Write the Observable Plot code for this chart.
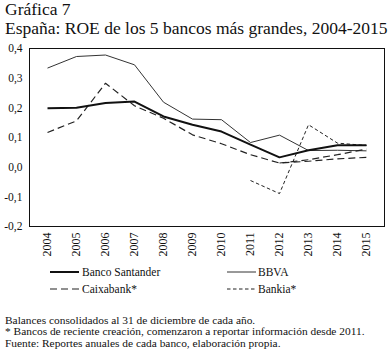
<!DOCTYPE html>
<html>
<head>
<meta charset="utf-8">
<script src="https://cdn.jsdelivr.net/npm/d3@7"></script>
<script src="https://cdn.jsdelivr.net/npm/@observablehq/plot@0.6"></script>
<style>
  html, body { margin: 0; padding: 0; background: #fff; }
  #wrap { position: relative; width: 391px; height: 352px; overflow: hidden; font-family: "Liberation Serif", "Times New Roman", Times, "DejaVu Serif", serif; color: #111; }
  #title { position: absolute; left: 5px; top: 0px; font-size: 17.5px; line-height: 19px; white-space: nowrap; }
  #chart { position: absolute; left: 0; top: 40px; }
  #legend { position: absolute; left: 0; top: 262px; }
  #notes { position: absolute; left: 5px; top: 315px; font-size: 11.4px; line-height: 11.4px; white-space: nowrap; }
</style>
</head>
<body>
<div id="wrap">
  <div id="title">Gráfica 7<br>España: ROE de los 5 bancos más grandes, 2004-2015</div>
  <div id="chart"></div>
  <svg id="legend" width="391" height="40"></svg>
  <div id="notes">Balances consolidados al 31 de diciembre de cada año.<br>* Bancos de reciente creación, comenzaron a reportar información desde 2011.<br>Fuente: Reportes anuales de cada banco, elaboración propia.</div>
</div>
<script>
const years = [2004, 2005, 2006, 2007, 2008, 2009, 2010, 2011, 2012, 2013, 2014, 2015];
const yTicks = [-0.2, -0.1, 0.0, 0.1, 0.2, 0.3, 0.4];
const santander = [0.199, 0.200, 0.216, 0.221, 0.171, 0.143, 0.120, 0.076, 0.033, 0.057, 0.074, 0.074];
const bbva      = [0.334, 0.373, 0.378, 0.345, 0.219, 0.162, 0.160, 0.083, 0.108, 0.056, 0.057, 0.055];
const caixabank = [0.117, 0.156, 0.283, 0.207, 0.165, 0.109, 0.079, 0.042, 0.014, 0.020, 0.028, 0.033];
const bankia    = [null, null, null, null, null, null, null, -0.045, -0.089, 0.143, 0.081, 0.073];
const quinto    = [null, null, null, null, null, null, null, null, 0.014, 0.025, 0.042, 0.061];

const legendNames = ["Banco Santander", "BBVA", "Caixabank*", "Bankia*"];

const FONT = "'Liberation Serif', 'Times New Roman', Times, 'DejaVu Serif', serif";

const table = (name, vals) => years.map((y, i) => ({year: y, roe: vals[i], banco: name})).filter(d => d.roe != null);

const styles = {
  "Banco Santander": {stroke: "#111", strokeWidth: 2, dash: null},
  "BBVA": {stroke: "#333", strokeWidth: 1, dash: null},
  "Caixabank*": {stroke: "#222", strokeWidth: 1.2, dash: "7,4"},
  "Bankia*": {stroke: "#222", strokeWidth: 1, dash: "3.5,2.5"},
  "Quinto": {stroke: "#222", strokeWidth: 1.2, dash: "7,4"}
};

const series = [
  ["BBVA", bbva],
  ["Caixabank*", caixabank],
  ["Quinto", quinto],
  ["Bankia*", bankia],
  ["Banco Santander", santander]
];

const fmt = d => d3.format(".1f")(d).replace(".", ",").replace("−", "-");

const lineMarks = series.map(([name, vals]) => Plot.line(table(name, vals), {
  x: "year", y: "roe",
  stroke: styles[name].stroke,
  strokeWidth: styles[name].strokeWidth,
  strokeDasharray: styles[name].dash,
  strokeLinejoin: "miter",
  strokeLinecap: "butt"
}));

const chart = Plot.plot({
  width: 391,
  height: 222,
  marginTop: 8,
  marginBottom: 36,
  marginLeft: 29,
  marginRight: 7,
  style: {fontFamily: FONT, fontSize: "11px", color: "#111", background: "white", overflow: "visible"},
  x: {type: "point", domain: years, padding: 0.45, label: null},
  y: {domain: [-0.2, 0.4], label: null},
  marks: [
    Plot.axisX({tickRotate: -90, tickSize: 0, tickPadding: 6, fontSize: 12, tickFormat: d => String(d), label: null}),
    Plot.axisY({ticks: yTicks, tickSize: 0, tickPadding: 7, fontSize: 11.5, tickFormat: fmt, label: null}),
    ...lineMarks,
    Plot.frame({stroke: "#111", strokeWidth: 1})
  ]
});
document.getElementById("chart").appendChild(chart);

// legend
const svg = d3.select("#legend");
const legendPos = [
  {x: 50, y: 10, tx: 82},
  {x: 227, y: 10, tx: 258},
  {x: 50, y: 27, tx: 82},
  {x: 227, y: 27, tx: 258}
];
legendNames.forEach((name, i) => {
  const p = legendPos[i], s = styles[name];
  svg.append("line").attr("x1", p.x).attr("x2", p.x + 29).attr("y1", p.y).attr("y2", p.y)
    .attr("stroke", s.stroke).attr("stroke-width", s.strokeWidth)
    .attr("stroke-dasharray", s.dash);
  svg.append("text").attr("x", p.tx).attr("y", p.y).attr("dy", "0.35em")
    .attr("font-family", FONT).attr("font-size", 11.5).attr("fill", "#111").text(name);
});
</script>
</body>
</html>
